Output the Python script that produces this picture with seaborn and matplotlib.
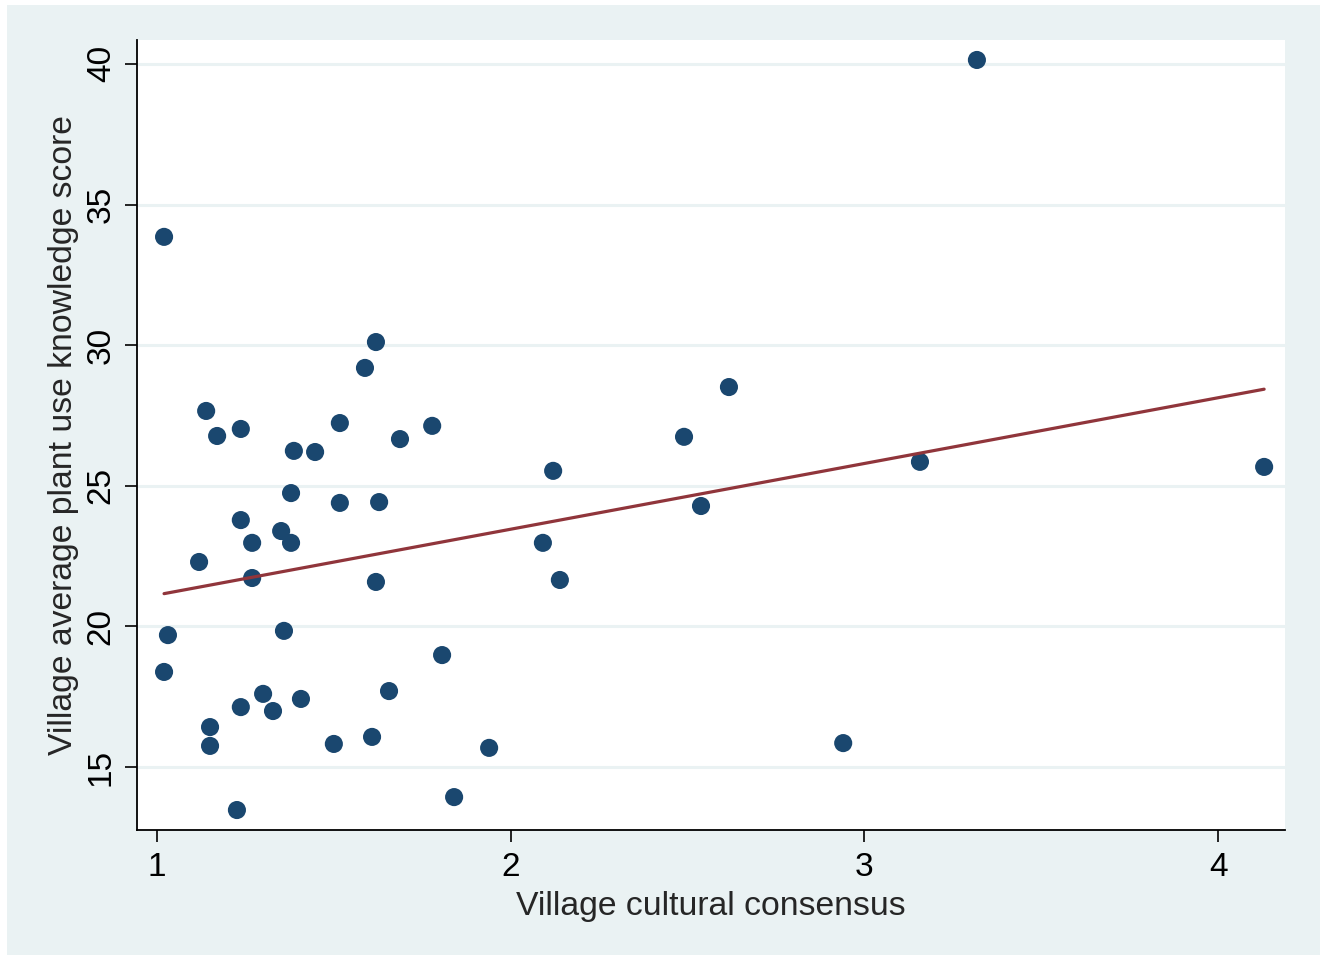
import numpy as np
import pandas as pd
import matplotlib
matplotlib.use("Agg")
import matplotlib.pyplot as plt
import seaborn as sns
from matplotlib.patches import Rectangle

consensus = [1.020, 3.318, 1.031, 1.020, 1.119, 1.139, 1.170, 1.150, 1.150, 1.226,
             1.237, 1.237, 1.237, 1.269, 1.269, 1.300, 1.328, 1.351, 1.359, 1.379,
             1.379, 1.387, 1.407, 1.447, 1.500, 1.517, 1.517, 1.588, 1.608, 1.619,
             1.619, 1.628, 1.656, 1.687, 1.778, 1.806, 1.840, 1.939, 2.091, 2.120,
             2.139, 2.490, 2.538, 2.617, 2.940, 3.157, 4.130]
knowledge = [33.85, 40.14, 19.69, 18.38, 22.29, 27.66, 26.77, 16.42, 15.75, 13.47,
             27.02, 23.78, 17.13, 22.97, 21.72, 17.60, 16.99, 23.39, 19.84, 24.74,
             22.97, 26.24, 17.42, 26.20, 15.82, 27.23, 24.39, 29.19, 16.07, 30.11,
             21.58, 24.42, 17.70, 26.66, 27.13, 18.98, 13.93, 15.68, 22.97, 25.53,
             21.65, 26.74, 24.28, 28.51, 15.85, 25.85, 25.67]
x_ticks = [1, 2, 3, 4]
y_ticks = [15, 20, 25, 30, 35, 40]

df = pd.DataFrame({"consensus": consensus, "knowledge": knowledge})

sns.set_style("white")
plt.rcParams['font.family'] = ['Liberation Sans', 'DejaVu Sans']

W, H = 1328, 957
fig = plt.figure(figsize=(W / 100, H / 100), dpi=100, facecolor="white")
bg = "#EAF2F3"
fig.patches.append(Rectangle((7 / W, 1 - 955 / H), (1320 - 7) / W, (955 - 5) / H,
                             transform=fig.transFigure, facecolor=bg, edgecolor="none", zorder=-10))

ax = fig.add_axes([137 / W, 1 - 830 / H, (1285 - 137) / W, (830 - 40) / H])
ax.set_facecolor("white")

sns.regplot(data=df, x="consensus", y="knowledge", ax=ax, ci=None,
            scatter_kws=dict(s=170, color="#1A476F", edgecolor="none", alpha=1, zorder=3),
            line_kws=dict(color="#90353B", lw=2.3, zorder=4))

ax.set_xlim(0.9435, 4.189)
ax.set_ylim(12.76, 40.85)
ax.set_xticks(x_ticks)
ax.set_yticks(y_ticks)
ax.set_xticklabels([str(v) for v in x_ticks])
ax.set_yticklabels([str(v) for v in y_ticks], rotation=90, va="center")
ax.yaxis.grid(True, color=bg, lw=2.2)
ax.set_axisbelow(True)

for side in ["top", "right"]:
    ax.spines[side].set_visible(False)
for side in ["left", "bottom"]:
    ax.spines[side].set_color("black")
    ax.spines[side].set_linewidth(1.3)

ax.tick_params(axis="both", which="major", direction="out", length=8.5, width=1.2,
               color="black", labelsize=24, labelcolor="black", pad=7,
               left=True, bottom=True)
ax.tick_params(axis="y", pad=6)
ax.set_xlabel("Village cultural consensus", fontsize=24.3, labelpad=6)
ax.set_ylabel("Village average plant use knowledge score", fontsize=24.3, labelpad=5)

fig.savefig("out.png", dpi=100, facecolor="white")
